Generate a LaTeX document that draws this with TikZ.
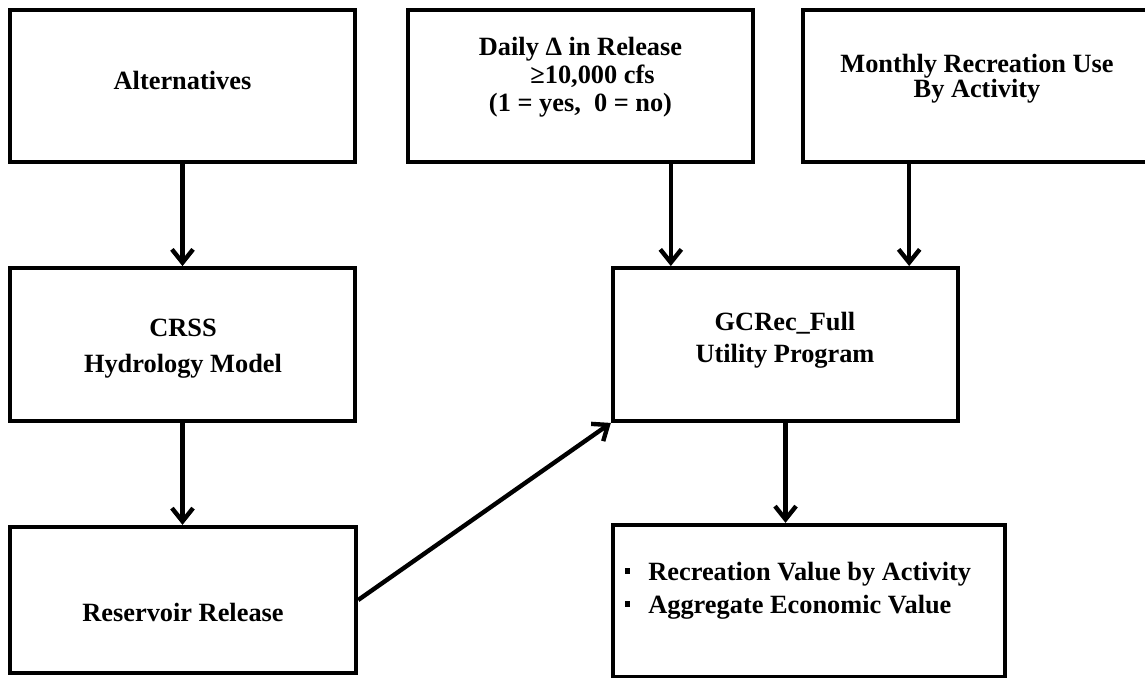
\documentclass[tikz,border=0pt]{standalone}
\usepackage{fontspec}
\setmainfont{Liberation Serif}
\usetikzlibrary{arrows.meta}

\begin{document}
\begin{tikzpicture}[x=0.02cm,y=-0.02cm,
		box/.style={draw,line width=2.5pt,inner sep=0pt,minimum width=6.9cm,minimum height=3.05cm},
		lbl/.style={font=\bfseries\fontsize{15pt}{#1}\selectfont,align=center,inner sep=0pt},
		flow/.style={line width=2.5pt,-{Straight Barb[length=7.5pt,width=12pt]}}]
			\useasboundingbox (0,0) rectangle (1145,678);
			\node[box] (alt) at (182.5,86) {};
			\node[box] (daily) at (580.5,86) {};
			\node[box] (month) at (976.5,86) [minimum width=6.94cm] {};
			\node[box] (crss) at (182.5,344.5) {};
			\node[box] (gc) at (785.5,344.5) {};
			\node[box] (res) at (183,600) [minimum width=6.92cm,minimum height=2.92cm] {};
			\node[box] (out) at (809,601) [minimum width=7.84cm,minimum height=3.04cm] {};
			\node[lbl=16pt] (alttext) at (182.5,80) {Alternatives};
			\node[lbl=15.9pt] (dailytext) at (580.5,77) {Daily Δ in Release\\\hspace*{0.48cm}≥10,000 cfs\\(1 = yes,\ \ 0 = no)};
			\node[lbl=14.2pt] (monthtext) at (977,79) {Monthly Recreation Use\\By Activity};
			\node[lbl=20.5pt] (crsstext) at (183,349) {CRSS\\Hydrology Model};
			\node[lbl=18.2pt] (gctext) at (785,340) {GCRec\_Full\\Utility Program};
			\node[lbl=16pt] (restext) at (183,612) {Reservoir Release};
			\node[lbl=18.8pt,align=left,anchor=west] (outtext) at (625,591) {\rule[4pt]{0.1cm}{0.11cm}\hspace{0.36cm}Recreation Value by Activity\\\rule[4pt]{0.1cm}{0.11cm}\hspace{0.36cm}Aggregate Economic Value};
			\draw[flow] (alt) -- (crss);
			\draw[flow] (crss.south) -- (crss.south |- res.north);
			\draw[flow] ([xshift=1.2cm]gc.north west |- daily.south) -- ([xshift=1.2cm]gc.north west);
			\draw[flow] ([xshift=-1.02cm]gc.north east |- month.south) -- ([xshift=-1.02cm]gc.north east);
			\draw[flow] (gc.south) -- (gc.south |- out.north);
			\draw[flow] (res.east) -- (gc.south west);
		\end{tikzpicture}
\end{document}
